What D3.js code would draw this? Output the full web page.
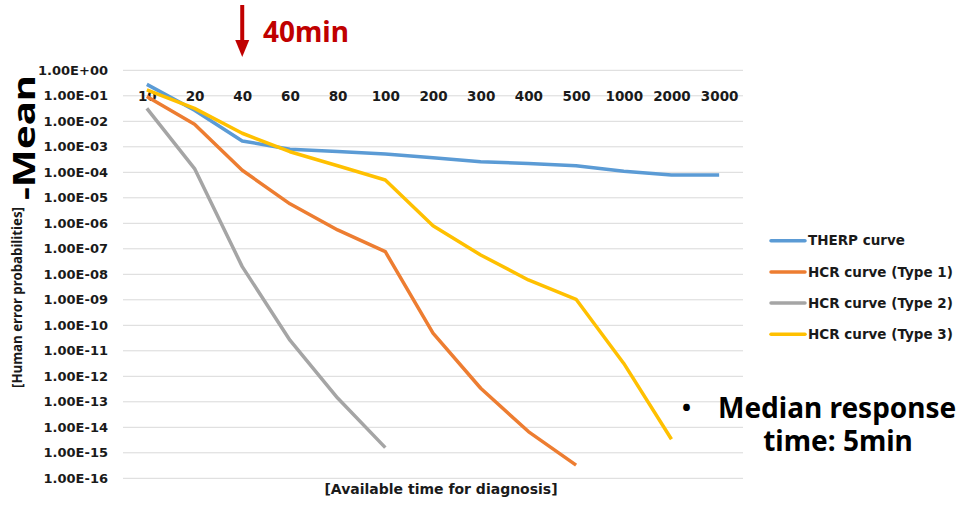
<!DOCTYPE html>
<html><head><meta charset="utf-8">
<script src="https://cdn.jsdelivr.net/npm/d3@7"></script>
<style>body{margin:0;background:#fff}svg{display:block;font-family:"DejaVu Sans",sans-serif}</style>
</head><body>
<svg id="c" width="957" height="505"></svg>
<script>
const categories = ["10","20","40","60","80","100","200","300","400","500","1000","2000","3000"];
const therp = [0.28,0.027,0.0017,8e-4,6.5e-4,5.2e-4,3.7e-4,2.6e-4,2.2e-4,1.8e-4,1.1e-4,7.9e-5,7.9e-5];
const hcr1 = [0.093,0.0076,1.2e-4,5.8e-6,5.5e-7,7.7e-8,4.9e-11,3.4e-13,6.8e-15,3.3e-16];
const hcr2 = [0.032,1.4e-4,2e-8,2.6e-11,1.4e-13,1.6e-15];
const hcr3 = [0.17,0.032,0.0034,6.4e-4,1.8e-4,5e-5,8e-7,5.7e-8,6e-9,1.05e-9,3.2e-12,3.4e-15];
const seriesNames = ["THERP curve","HCR curve (Type 1)","HCR curve (Type 2)","HCR curve (Type 3)"];
const seriesColors = ["#5B9BD5","#ED7D31","#A5A5A5","#FFC000"];
const yTickExps = d3.range(0,-17,-1);

const svg = d3.select("#c");
const x = d3.scalePoint().domain(categories).range([123,743]).padding(0.5);
const y = d3.scaleLog().domain([1,1e-16]).range([70.3,478.3]);
const ink = "#1a1a1a";

// gridlines
svg.append("g").selectAll("line").data(yTickExps).join("line")
  .attr("x1",123).attr("x2",743)
  .attr("y1",e=>y(Math.pow(10,e))).attr("y2",e=>y(Math.pow(10,e)))
  .attr("stroke","#d9d9d9").attr("stroke-width",1);

// y axis labels
const yAxis = d3.axisLeft(y).tickValues(yTickExps.map(e=>Math.pow(10,e)))
  .tickFormat((d,i)=>{const e=yTickExps[i];return "1.00E"+(e===0?"+00":"-"+String(-e).padStart(2,"0"));})
  .tickSize(0).tickPadding(0);
const ya = svg.append("g").attr("transform","translate(108,0)").call(yAxis);
ya.select(".domain").remove();
ya.selectAll("text").attr("font-size",13).attr("font-weight","bold").attr("fill",ink)
  .attr("font-family","'DejaVu Sans',sans-serif");

// x axis at 0.1
const xAxis = d3.axisTop(x).tickSize(0).tickPadding(0);
const xa = svg.append("g").attr("transform",`translate(0,${y(0.1)})`).call(xAxis);
xa.select(".domain").remove();
xa.selectAll("text").attr("font-size",13.5).attr("font-weight","bold").attr("fill",ink)
  .attr("dy","0.35em").attr("font-family","'DejaVu Sans',sans-serif");

// lines
const allSeries = [therp,hcr1,hcr2,hcr3];
const line = d3.line().x((d,i)=>x(categories[i])).y(d=>y(d));
allSeries.forEach((s,k)=>{
  svg.append("path").datum(s).attr("d",line).attr("fill","none")
    .attr("stroke",seriesColors[k]).attr("stroke-width",3.5).attr("stroke-linejoin","round");
});

// legend
const lg = svg.append("g");
seriesNames.forEach((n,k)=>{
  const yy = 240.7 + k*31.2;
  lg.append("line").attr("x1",771).attr("x2",805).attr("y1",yy).attr("y2",yy)
    .attr("stroke",seriesColors[k]).attr("stroke-width",3.5).attr("stroke-linecap","round");
  lg.append("text").attr("x",808).attr("y",yy).attr("dy","0.35em").attr("font-size",13.5)
    .attr("font-weight","bold").attr("fill",ink).text(n);
});

// y axis title
svg.append("text").attr("transform","translate(22,388) rotate(-90)")
  .attr("text-anchor","start").attr("font-weight","bold").attr("fill",ink)
  .attr("font-family","'Noto Sans',sans-serif").attr("font-size",14)
  .attr("textLength",181).attr("lengthAdjust","spacingAndGlyphs")
  .text("[Human error probabilities]");
svg.append("text").attr("transform","translate(35,200) rotate(-90)")
  .attr("text-anchor","start").attr("font-weight","bold").attr("fill","#000")
  .attr("font-family","'Noto Sans',sans-serif").attr("font-size",30)
  .attr("textLength",125).attr("lengthAdjust","spacingAndGlyphs")
  .text("-Mean");

// x axis title
svg.append("text").attr("x",441).attr("y",494).attr("text-anchor","middle")
  .attr("font-size",14).attr("font-weight","bold").attr("fill",ink)
  .text("[Available time for diagnosis]");

// 40min annotation
const ax = x("40");
svg.append("line").attr("x1",ax).attr("x2",ax).attr("y1",5).attr("y2",42)
  .attr("stroke","#C00000").attr("stroke-width",4);
svg.append("path").attr("d",`M${ax-7},40 L${ax+7},40 L${ax},57 Z`).attr("fill","#C00000");
svg.append("text").attr("x",263).attr("y",42).attr("font-size",28).attr("font-weight","bold")
  .attr("font-family","'Noto Sans',sans-serif").attr("fill","#C00000").text("40min");

// median response annotation
svg.append("text").attr("x",682).attr("y",416).attr("font-size",24).attr("font-weight","bold")
  .attr("font-family","'Noto Sans',sans-serif").attr("fill","#000").text("•");
svg.append("text").attr("x",718).attr("y",418).attr("font-size",28).attr("font-weight","bold")
  .attr("font-family","'Noto Sans',sans-serif").attr("fill","#000").text("Median response");
svg.append("text").attr("x",838).attr("y",451).attr("text-anchor","middle").attr("font-size",28)
  .attr("font-family","'Noto Sans',sans-serif").attr("font-weight","bold").attr("fill","#000").text("time: 5min");
</script>
</body></html>
